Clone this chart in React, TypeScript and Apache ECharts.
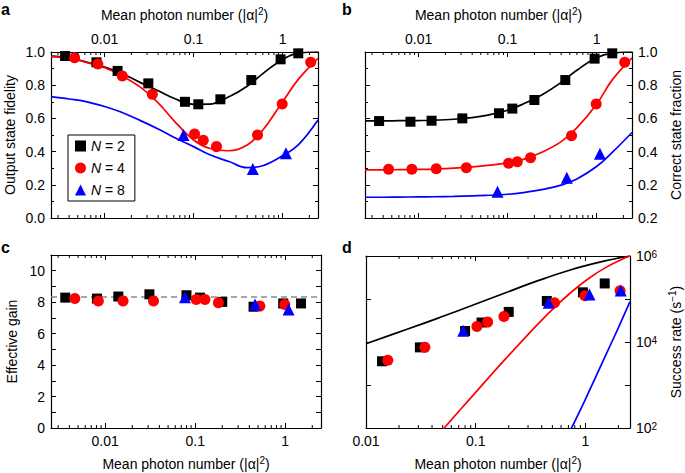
import React, { useEffect, useRef } from 'react';
import * as echarts from 'echarts';

const FONT = "'Liberation Sans', Arial, Helvetica, sans-serif";

// Mean photon numbers of the measured points
const xN2 = [0.0036, 0.0081, 0.014, 0.031, 0.08, 0.113, 0.2, 0.445, 0.95, 1.5];
const xN4 = [0.0046, 0.0084, 0.0158, 0.0344, 0.1026, 0.1285, 0.181, 0.523, 0.99, 2.07];
const xN8 = [0.077, 0.463, 1.09, 2.1];

// a: output state fidelity
const fidN2 = [0.976, 0.938, 0.886, 0.811, 0.7, 0.685, 0.715, 0.831, 0.956, 0.992];
const fidN4 = [0.966, 0.928, 0.855, 0.745, 0.506, 0.468, 0.43, 0.5, 0.687, 0.938];
const fidN8 = [0.5, 0.295, 0.39];

// b: correct state fraction
const csfN2 = [0.584, 0.58, 0.586, 0.6, 0.631, 0.659, 0.711, 0.831, 0.96, 0.992];
const csfN4 = [0.293, 0.293, 0.297, 0.303, 0.33, 0.339, 0.363, 0.496, 0.687, 0.938];
const csfN8 = [0.158, 0.243, 0.387];

// c: effective gain
const gainN2 = [8.29, 8.23, 8.36, 8.5, 8.44, 8.29, 8.02, 7.71, 7.92, 7.92];
const gainN4 = [8.23, 8.08, 8.08, 8.08, 8.17, 8.17, 7.96, 7.75, 7.85];
const gainN8 = [8.31, 7.85, 7.54];
const gainRef = 8.37;

// d: success rate (s^-1)
const rateN2 = [null, null, 3565, 7500, 18000, 28400, 50100, 90000, 143000, 230000];
const rateN4 = [null, null, 3760, 7500, 22900, 29000, 39000, 82200, 119000, 155600];
const rateN8 = [18200, 82200, 128000, 158000];

// theory curves (a, b)
const fitX = [0.0025, 0.004, 0.006, 0.01, 0.015, 0.025, 0.04, 0.06, 0.1, 0.15, 0.25, 0.4, 0.6, 1, 1.5, 2.5];
const fitA2 = [0.975, 0.965, 0.942, 0.91, 0.875, 0.817, 0.766, 0.721, 0.685, 0.686, 0.73, 0.794, 0.87, 0.955, 0.993, 1.0];
const fitA4 = [0.972, 0.962, 0.94, 0.905, 0.862, 0.79, 0.693, 0.587, 0.47, 0.42, 0.405, 0.44, 0.53, 0.7, 0.835, 0.962];
const fitA8 = [0.731, 0.717, 0.703, 0.672, 0.64, 0.588, 0.536, 0.486, 0.43, 0.382, 0.34, 0.303, 0.315, 0.375, 0.44, 0.59];
const fitB2 = [0.585, 0.585, 0.586, 0.587, 0.589, 0.595, 0.605, 0.62, 0.649, 0.687, 0.746, 0.817, 0.89, 0.965, 0.993, 1.0];
const fitB4 = [0.29, 0.29, 0.291, 0.293, 0.295, 0.3, 0.308, 0.317, 0.332, 0.353, 0.399, 0.46, 0.543, 0.685, 0.832, 0.965];
const fitB8 = [0.125, 0.125, 0.126, 0.127, 0.128, 0.13, 0.133, 0.137, 0.143, 0.153, 0.172, 0.198, 0.235, 0.31, 0.395, 0.515];

// theory curves (d)
const fitD2x = [0.01, 0.0233, 0.0468, 0.0935, 0.1875, 0.376, 0.752, 1.51, 2.55];
const fitD2 = [9141, 19540, 36980, 71450, 139960, 270400, 485300, 767400, 1000000];
const fitD4x = [0.048, 0.0936, 0.187, 0.376, 0.532, 0.751, 1.07, 1.51, 2.14, 2.55];
const fitD4 = [81, 560, 4036, 27480, 66680, 147600, 300000, 529700, 831800, 1000000];
const fitD8x = [0.74, 1.0, 1.5, 2.0, 2.55];
const fitD8 = [95, 465, 4400, 21600, 86700];

const BLACK = '#000000';
const RED = '#ff0000';
const BLUE = '#0000ff';
const FS = 14;

const zip = (xs: number[], ys: (number | null)[]) =>
  ys.map((y, i) => [xs[i], y]).filter((p) => p[1] !== null);

const minorLogTicks = (fromExp: number, toExp: number, min: number, max: number) => {
  const out: number[] = [];
  for (let e = fromExp; e <= toExp; e++) {
    for (let k = 2; k <= 9; k++) {
      const v = k * Math.pow(10, e);
      if (v > min && v < max) out.push(v);
    }
  }
  return out;
};

const isPow10 = (v: number) => Math.abs(Math.log10(v) - Math.round(Math.log10(v))) < 1e-6;
const fmtLog = (v: number) => {
  if (!isPow10(v)) return '';
  const e = Math.round(Math.log10(v));
  return e >= 0 ? String(Math.pow(10, e)) : (1 / Math.pow(10, -e)).toFixed(-e);
};

const supRich = {
  sup: { fontSize: 10, fontFamily: FONT, color: '#000', verticalAlign: 'top', lineHeight: 10 },
};
const nameStyle = { fontSize: FS, fontFamily: FONT, color: '#000', lineHeight: 17, rich: supRich };
const axisLine = { show: true, onZero: false, lineStyle: { color: '#000', width: 1.2 } };
const axisTick = { show: true, inside: true, length: 5, lineStyle: { color: '#000', width: 1 } };
const labelBase = { color: '#000', fontSize: FS, fontFamily: FONT };
const XNAME = 'Mean photon number (|α|{sup|2})';

function xLog(gridIndex: number, position: string, min: number, max: number, labels: boolean, name?: string, nameGap?: number) {
  return {
    type: 'log', logBase: 10, gridIndex, position, min, max,
    axisLine, axisTick, splitLine: { show: false },
    axisLabel: { ...labelBase, show: labels, interval: 0, margin: 6, formatter: fmtLog },
    name, nameLocation: 'middle', nameGap, nameTextStyle: nameStyle,
  };
}

function yVal(gridIndex: number, position: string, min: number, max: number, interval: number, labels: boolean,
  formatter: (v: number) => string, minor: boolean, name?: string, nameGap?: number) {
  return {
    type: 'value', gridIndex, position, min, max, interval,
    axisLine, axisTick, splitLine: { show: false },
    minorTick: { show: minor, splitNumber: 2, length: 3, lineStyle: { color: '#000', width: 1 } },
    axisLabel: { ...labelBase, show: labels, margin: 6, formatter },
    name, nameLocation: 'middle', nameGap, nameRotate: 90, nameTextStyle: nameStyle,
  };
}

function yLog(gridIndex: number, position: string, labels: boolean, name?: string, nameGap?: number) {
  return {
    type: 'log', logBase: 10, gridIndex, position, min: 100, max: 1e6,
    axisLine, axisTick, splitLine: { show: false },
    axisLabel: {
      ...labelBase, show: labels, interval: 0, margin: 6,
      formatter: (v: number) => {
        const e = Math.round(Math.log10(v));
        return isPow10(v) && e % 2 === 0 ? '10{sup|' + e + '}' : '';
      },
      rich: supRich,
    },
    name, nameLocation: 'middle', nameGap, nameRotate: 90, nameTextStyle: nameStyle,
  };
}

const lineSeries = (name: string, xi: number, yi: number, data: any[], color: string) => ({
  type: 'line', name, xAxisIndex: xi, yAxisIndex: yi, data, smooth: 0.4,
  showSymbol: false, symbol: 'none', lineStyle: { color, width: 1.7 }, itemStyle: { color },
  silent: true, z: 2,
});

const SYM: Record<string, [string, number, string]> = {
  'N = 2': ['rect', 10, BLACK],
  'N = 4': ['circle', 11, RED],
  'N = 8': ['triangle', 12, BLUE],
};
const scatter = (name: string, xi: number, yi: number, data: any[], extra: any = {}) => ({
  type: 'scatter', name, xAxisIndex: xi, yAxisIndex: yi, data,
  symbol: SYM[name][0], symbolSize: SYM[name][1], itemStyle: { color: SYM[name][2], opacity: 1 },
  z: 3, ...extra,
});

const minorSeries = (xi: number, yi: number, xs: number[], yDummy: number) => ({
  type: 'custom', xAxisIndex: xi, yAxisIndex: yi, silent: true, z: 5,
  data: xs.map((v) => [v, yDummy]),
  renderItem: (params: any, api: any) => {
    const cs = params.coordSys;
    const px = api.coord([api.value(0), api.value(1)])[0];
    const st = { stroke: '#000', lineWidth: 1 };
    return {
      type: 'group',
      children: [
        { type: 'line', shape: { x1: px, y1: cs.y + cs.height, x2: px, y2: cs.y + cs.height - 3 }, style: st },
        { type: 'line', shape: { x1: px, y1: cs.y, x2: px, y2: cs.y + 3 }, style: st },
      ],
    };
  },
});

export default function App() {
  const ref = useRef<HTMLDivElement>(null);
  useEffect(() => {
    if (!ref.current) return;
    const chart = echarts.init(ref.current, undefined, { renderer: 'svg' });
    const XMIN = 0.0025, XMAX = 2.5, DXMIN = 0.01, DXMAX = 2.55;
    const minorABC = minorLogTicks(-3, 0, XMIN, XMAX);
    const minorD = minorLogTicks(-2, 0, DXMIN, DXMAX);
    const f1 = (v: number) => v.toFixed(1);
    const fb = (v: number) => (v === 0 ? '0.2' : v.toFixed(1));
    const fc = (v: number) => (Math.round(v) % 2 === 0 && v <= 10 ? String(Math.round(v)) : '');

    const option: any = {
      animation: false,
      backgroundColor: '#fff',
      textStyle: { fontFamily: FONT },
      grid: [
        { left: 50, top: 52, width: 268, height: 166 },
        { left: 365, top: 52, width: 267, height: 166 },
        { left: 51, top: 255, width: 270, height: 175 },
        { left: 366, top: 256, width: 266, height: 173 },
      ],
      xAxis: [
        xLog(0, 'bottom', XMIN, XMAX, false),
        xLog(0, 'top', XMIN, XMAX, true, XNAME, 29),
        xLog(1, 'bottom', XMIN, XMAX, false),
        xLog(1, 'top', XMIN, XMAX, true, XNAME, 29),
        xLog(2, 'bottom', XMIN, XMAX, true, XNAME, 27),
        xLog(2, 'top', XMIN, XMAX, false),
        xLog(3, 'bottom', DXMIN, DXMAX, true, XNAME, 27),
        xLog(3, 'top', DXMIN, DXMAX, false),
      ],
      yAxis: [
        yVal(0, 'left', 0, 1, 0.2, true, f1, true, 'Output state fidelity', 33),
        yVal(0, 'right', 0, 1, 0.2, false, f1, true),
        yVal(1, 'left', 0, 1, 0.2, false, fb, true),
        yVal(1, 'right', 0, 1, 0.2, true, fb, true, 'Correct state fraction', 35),
        yVal(2, 'left', 0, 11, 1, true, fc, false, 'Effective gain', 31),
        yVal(2, 'right', 0, 11, 1, false, fc, false),
        yLog(3, 'left', false),
        yLog(3, 'right', true, 'Success rate (s{sup|−1})', 37),
      ],
      legend: {
        data: ['N = 2', 'N = 4', 'N = 8'],
        orient: 'vertical', left: 68, top: 135,
        itemWidth: 11, itemHeight: 11, itemGap: 6,
        padding: [3, 10, 3, 7],
        borderColor: '#000', borderWidth: 1, borderRadius: 0, backgroundColor: '#fff',
        selectedMode: false,
        formatter: (n: string) => '{i|N} = ' + n.split('= ')[1],
        textStyle: { color: '#000', fontSize: FS, fontFamily: FONT, lineHeight: 16, rich: { i: { fontStyle: 'italic', fontSize: FS, fontFamily: FONT, color: '#000' } } },
      },
      graphic: [
        { type: 'text', left: 1, top: 1, style: { text: 'a', font: `bold 16px ${FONT}`, fill: '#000' } },
        { type: 'text', left: 342, top: 1, style: { text: 'b', font: `bold 16px ${FONT}`, fill: '#000' } },
        { type: 'text', left: 1, top: 239, style: { text: 'c', font: `bold 16px ${FONT}`, fill: '#000' } },
        { type: 'text', left: 342, top: 239, style: { text: 'd', font: `bold 16px ${FONT}`, fill: '#000' } },
      ],
      series: [
        // fits
        lineSeries('fitA2', 0, 0, zip(fitX, fitA2), BLACK),
        lineSeries('fitA4', 0, 0, zip(fitX, fitA4), RED),
        lineSeries('fitA8', 0, 0, zip(fitX, fitA8), BLUE),
        lineSeries('fitB2', 2, 2, zip(fitX, fitB2), BLACK),
        lineSeries('fitB4', 2, 2, zip(fitX, fitB4), RED),
        lineSeries('fitB8', 2, 2, zip(fitX, fitB8), BLUE),
        lineSeries('fitD2', 6, 6, zip(fitD2x, fitD2), BLACK),
        lineSeries('fitD4', 6, 6, zip(fitD4x, fitD4), RED),
        lineSeries('fitD8', 6, 6, zip(fitD8x, fitD8), BLUE),
        // data a
        scatter('N = 2', 0, 0, zip(xN2, fidN2)),
        scatter('N = 4', 0, 0, zip(xN4, fidN4)),
        scatter('N = 8', 0, 0, zip(xN8.slice(0, 3), fidN8)),
        // data b
        scatter('N = 2', 2, 2, zip(xN2, csfN2)),
        scatter('N = 4', 2, 2, zip(xN4, csfN4)),
        scatter('N = 8', 2, 2, zip(xN8.slice(0, 3), csfN8)),
        // data c
        scatter('N = 2', 4, 4, zip(xN2, gainN2), {
          markLine: {
            silent: true, symbol: 'none', label: { show: false }, z: 1,
            lineStyle: { color: '#8c8c8c', width: 1.5, type: [6, 4] },
            data: [{ yAxis: gainRef }],
          },
        }),
        scatter('N = 4', 4, 4, zip(xN4.slice(0, 9), gainN4)),
        scatter('N = 8', 4, 4, zip(xN8.slice(0, 3), gainN8)),
        // data d
        scatter('N = 2', 6, 6, zip(xN2, rateN2)),
        scatter('N = 4', 6, 6, zip(xN4, rateN4)),
        scatter('N = 8', 6, 6, zip(xN8, rateN8)),
        // log minor ticks
        minorSeries(0, 0, minorABC, 0.5),
        minorSeries(2, 2, minorABC, 0.5),
        minorSeries(4, 4, minorABC, 5),
        minorSeries(6, 6, minorD, 1000),
      ],
    };
    chart.setOption(option);
    return () => chart.dispose();
  }, []);
  return <div ref={ref} style={{ position: 'fixed', left: 0, top: 0, width: 685, height: 473 }} />;
}
